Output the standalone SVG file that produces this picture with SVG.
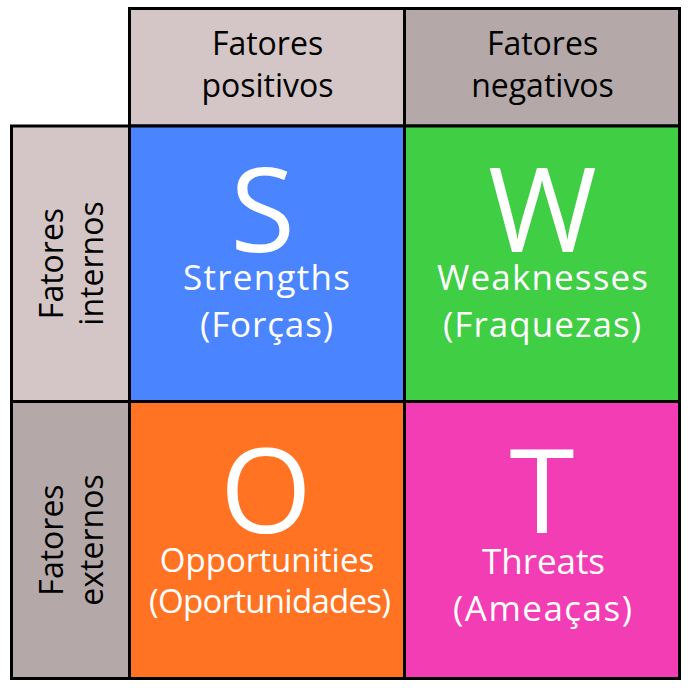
<svg xmlns="http://www.w3.org/2000/svg" width="691" height="688" viewBox="0 0 691 688">
<style>
.box{stroke:#000;stroke-width:3}
.hd{font-family:"Open Sans","Noto Sans",sans-serif;font-size:32px;fill:#000;text-anchor:middle}
.big{font-family:"Open Sans","Noto Sans",sans-serif;font-size:118px;fill:#fff;text-anchor:middle}
.lb{font-family:"Open Sans","Noto Sans",sans-serif;font-size:35px;fill:#fff;text-anchor:middle}
.lbs{font-family:"Open Sans","Noto Sans",sans-serif;font-size:33px;fill:#fff;text-anchor:middle}
</style>
<rect width="691" height="688" fill="#fff"/>
<g id="header-positive">
<rect class="box" x="129.5" y="8.5" width="275" height="117.5" fill="#D4C6C6"/>
<text class="hd"><tspan x="267.5" y="55">Fatores</tspan><tspan x="267.5" y="97">positivos</tspan></text>
</g>
<g id="header-negative">
<rect class="box" x="404.5" y="8.5" width="275" height="117.5" fill="#B4A9A8"/>
<text class="hd"><tspan x="542.5" y="55">Fatores</tspan><tspan x="542.5" y="97">negativos</tspan></text>
</g>
<g id="side-internal">
<rect class="box" x="11.5" y="126" width="118" height="275.5" fill="#D4C6C6"/>
<text class="hd" transform="translate(0,263.5) rotate(-90)"><tspan x="0" y="63">Fatores</tspan><tspan x="0" y="103">internos</tspan></text>
</g>
<g id="side-external">
<rect class="box" x="11.5" y="401.5" width="118" height="277" fill="#B4A9A8"/>
<text class="hd" transform="translate(0,540) rotate(-90)"><tspan x="0" y="63">Fatores</tspan><tspan x="0" y="103">externos</tspan></text>
</g>
<g id="cell-strengths">
<rect class="box" x="129.5" y="126" width="275" height="275.5" fill="#4A84FF"/>
<text class="big" x="262.5" y="252">S</text>
<text class="lb" x="266.5" y="290" textLength="167">Strengths</text>
<text class="lb" x="266.5" y="337" textLength="133">(Forças)</text>
</g>
<g id="cell-weaknesses">
<rect class="box" x="404.5" y="126" width="275" height="275.5" fill="#40CE45"/>
<text class="big" x="542.5" y="252">W</text>
<text class="lb" x="542.5" y="290" textLength="211">Weaknesses</text>
<text class="lb" x="542" y="337" textLength="198">(Fraquezas)</text>
</g>
<g id="cell-opportunities">
<rect class="box" x="129.5" y="401.5" width="275" height="277" fill="#FF7322"/>
<text class="big" x="266" y="533">O</text>
<text class="lbs" x="267" y="572">Opportunities</text>
<text class="lbs" x="270" y="613" textLength="242">(Oportunidades)</text>
</g>
<g id="cell-threats">
<rect class="box" x="404.5" y="401.5" width="275" height="277" fill="#F23DB5"/>
<text class="big" x="542" y="533">T</text>
<text class="lb" x="543.5" y="574" textLength="123">Threats</text>
<text class="lb" x="542.5" y="621" textLength="179">(Ameaças)</text>
</g>
<g id="connectors"/>
</svg>
